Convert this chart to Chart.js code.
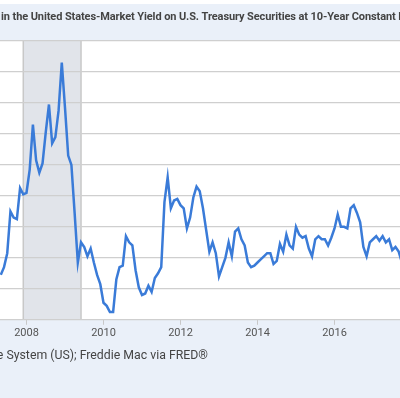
<!DOCTYPE html>
<html>
<head>
<meta charset="utf-8">
<script src="https://cdn.jsdelivr.net/npm/chart.js@4"></script>
<style>
  html, body { margin: 0; padding: 0; background: #eaf0f9; overflow: hidden; }
  #wrap { width: 400px; height: 398px; position: relative; }
</style>
</head>
<body>
<div id="wrap"><canvas id="chartSpread" width="400" height="398"></canvas></div>
<script>
// Serie mensual: hipoteca 30 años menos bono del Tesoro a 10 años (puntos %)
const primerMes = [2007, 5]; // mayo 2007
const spread = [
    1.49, 1.54, 1.63, 1.90, 1.86, 1.85, 2.05, 2.01,
    2.02, 2.17, 2.46, 2.23, 2.15, 2.21, 2.41, 2.59, 2.34, 2.38, 2.55, 2.86,
    2.57, 2.26, 2.20, 1.89, 1.57, 1.70, 1.67, 1.61, 1.66, 1.57, 1.49, 1.43,
    1.31, 1.29, 1.25, 1.25, 1.46, 1.54, 1.55, 1.74, 1.70, 1.68, 1.52, 1.41,
    1.36, 1.37, 1.42, 1.38, 1.47, 1.50, 1.54, 1.96, 2.12, 1.92, 1.97, 1.98,
    1.94, 1.92, 1.79, 1.86, 1.99, 2.06, 2.03, 1.92, 1.78, 1.64, 1.70, 1.63,
    1.48, 1.54, 1.60, 1.70, 1.61, 1.77, 1.79, 1.72, 1.68, 1.57, 1.54, 1.55,
    1.57, 1.59, 1.61, 1.63, 1.63, 1.56, 1.58, 1.69, 1.64, 1.75, 1.68, 1.66,
    1.80, 1.75, 1.73, 1.74, 1.66, 1.61, 1.72, 1.74, 1.72, 1.72, 1.68, 1.73,
    1.79, 1.88, 1.80, 1.80, 1.79, 1.92, 1.94, 1.89, 1.83, 1.67, 1.61, 1.70,
    1.72, 1.74, 1.71, 1.74, 1.70, 1.72, 1.65, 1.67, 1.64, 1.57
];
const aniosEje = [2008, 2010, 2012, 2014, 2016];
const recesion = [2007 + 11 / 12, 2009 + 5 / 12]; // dic 2007 - jun 2009
const rangoX = [2007.312, 2017.701];
const rangoY = [1.2, 3.0];

const titulo = '30-Year Fixed Rate Mortgage Average in the United States-Market Yield on U.S. Treasury Securities at 10-Year Constant Maturity';
const tituloOculto = '30-Year Fixed Rate Mortgage Average ';
const fuente = 'Sources: Board of Governors of the Federal Reserve System (US); Freddie Mac via FRED®';

const puntos = spread.map((v, i) => ({
    x: primerMes[0] + (primerMes[1] - 1 + i) / 12,
    y: v
}));

const fondoFred = {
    id: 'fondoFred',
    beforeDraw(chart) {
        const { ctx, chartArea: a, scales } = chart;
        ctx.save();
        ctx.fillStyle = '#eaf0f9';
        ctx.fillRect(0, 0, chart.width, chart.height);
        ctx.fillStyle = '#ffffff';
        ctx.fillRect(0, 0, chart.width, 4);
        ctx.fillRect(a.left, a.top, a.right - a.left, a.bottom - a.top);

        // sombreado de recesión
        const x0 = scales.x.getPixelForValue(recesion[0]);
        const x1 = scales.x.getPixelForValue(recesion[1]);
        ctx.fillStyle = '#e1e4ea';
        ctx.fillRect(x0, a.top, x1 - x0, a.bottom - a.top);
        ctx.strokeStyle = '#c8c8c8';
        ctx.lineWidth = 1.5;
        ctx.beginPath();
        ctx.moveTo(x0, a.top); ctx.lineTo(x0, a.bottom);
        ctx.moveTo(x1, a.top); ctx.lineTo(x1, a.bottom);
        ctx.stroke();
        ctx.restore();
    },
    afterDraw(chart) {
        const ctx = chart.ctx;
        ctx.save();
        ctx.textBaseline = 'middle';
        ctx.textAlign = 'left';
        ctx.fillStyle = '#444444';

        ctx.font = 'bold 11px Roboto';
        ctx.letterSpacing = '-0.1px';
        const corrido = ctx.measureText(tituloOculto).width;
        ctx.fillText(titulo, 1 - corrido, 17);

        ctx.letterSpacing = '0px';
        ctx.font = '12.3px Roboto';
        const finVisible = ctx.measureText(fuente).width;
        ctx.fillText(fuente, 208 - finVisible, 356);
        ctx.restore();
    }
};

new Chart(document.getElementById('chartSpread').getContext('2d'), {
    type: 'line',
    data: {
        datasets: [{
            data: puntos,
            borderColor: '#3a7bd8',
            borderWidth: 2.5,
            pointRadius: 0,
            tension: 0,
            fill: false
        }]
    },
    options: {
        responsive: false,
        animation: false,
        events: [],
        layout: { padding: { top: 41, bottom: 56, left: 0, right: 0 } },
        plugins: {
            legend: { display: false },
            tooltip: { enabled: false }
        },
        scales: {
            x: {
                type: 'linear',
                min: rangoX[0],
                max: rangoX[1],
                afterBuildTicks: (scale) => {
                    scale.ticks = aniosEje.map(v => ({ value: v }));
                },
                border: { display: false },
                grid: { drawOnChartArea: false, drawTicks: true, tickLength: 5, color: '#c8c8c8' },
                ticks: {
                    color: '#555555',
                    font: { family: 'Roboto', size: 11 },
                    padding: 2,
                    maxRotation: 0,
                    callback: (v) => String(v)
                }
            },
            y: {
                min: rangoY[0],
                max: rangoY[1],
                border: { display: false },
                grid: { color: '#cfcfcf', lineWidth: 1.3, drawTicks: false, tickLength: 0 },
                ticks: { display: false, stepSize: 0.2 }
            }
        }
    },
    plugins: [fondoFred]
});
</script>
</body>
</html>
